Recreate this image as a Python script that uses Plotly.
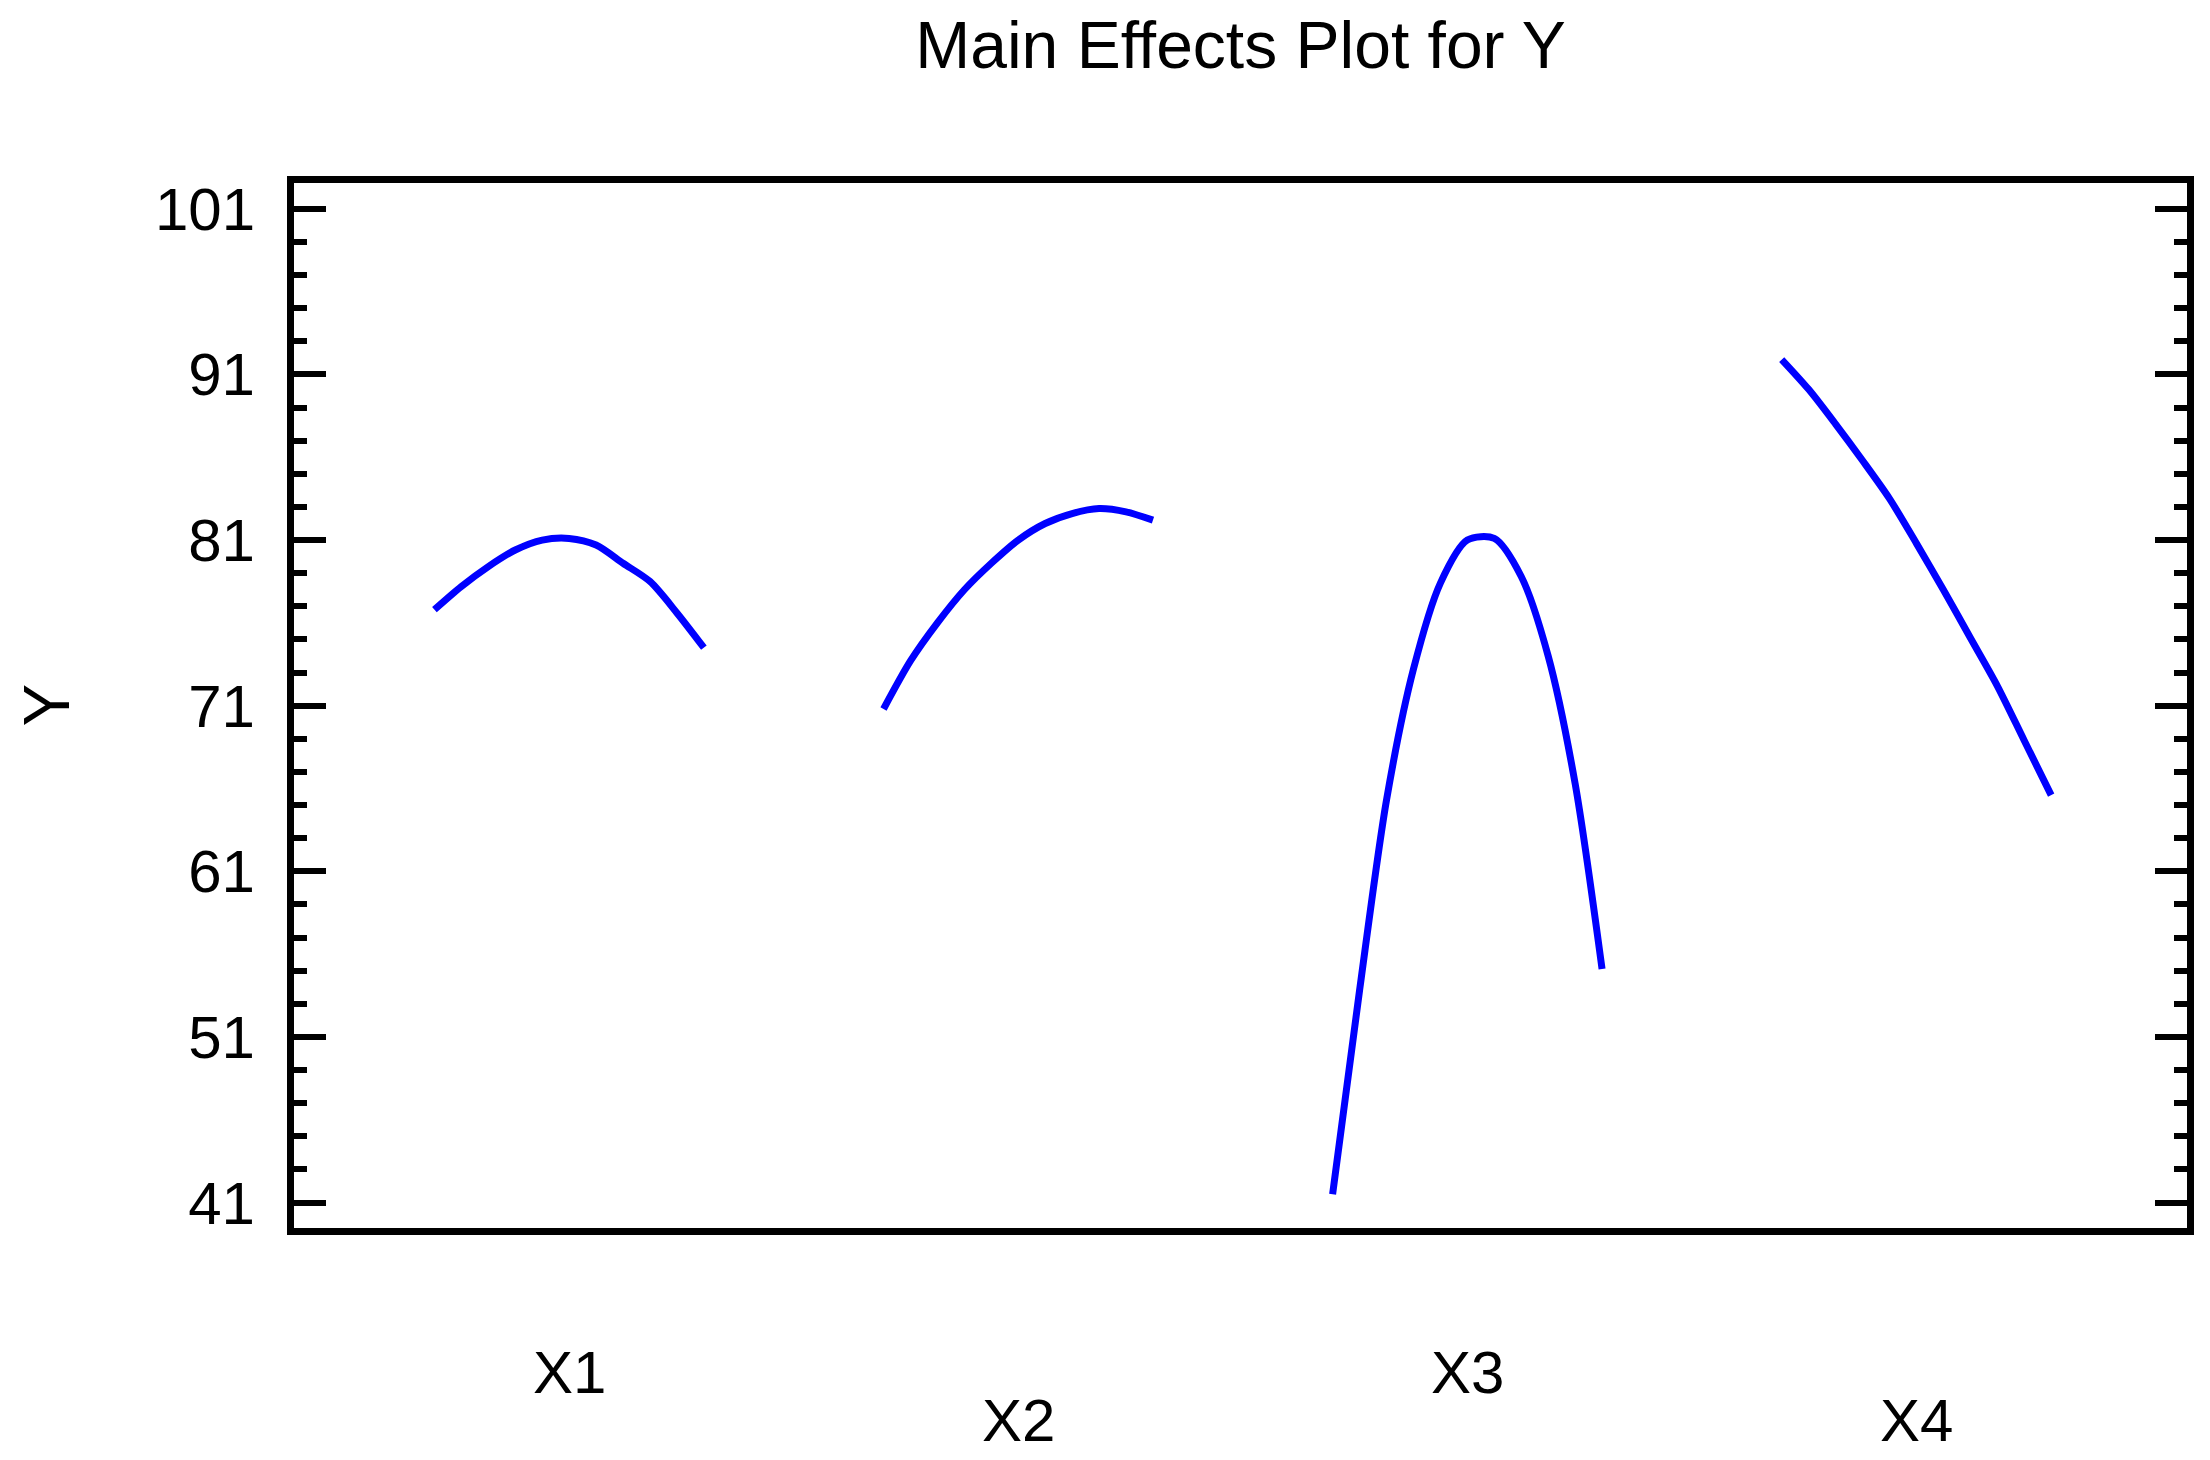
import plotly.graph_objects as go

# coded factor levels (low -> high) shared by every factor
levels = [-1.0, -0.8, -0.6, -0.4, -0.2, 0.0, 0.2, 0.4, 0.6, 0.8, 1.0]

factors = ["X1", "X2", "X3", "X4"]

# predicted response along each factor
y_x1 = [76.8, 78.2, 79.4, 80.4, 81.0, 81.1, 80.7, 79.6, 78.5, 76.6, 74.5]
y_x2 = [70.8, 73.7, 76.0, 78.0, 79.6, 81.0, 82.0, 82.6, 82.9, 82.7, 82.2]
y_x3 = [41.5, 53.8, 65.3, 73.2, 78.4, 81.0, 81.1, 78.8, 74.0, 66.3, 55.1]
y_x4 = [91.9, 90.1, 88.0, 85.8, 83.5, 80.8, 78.0, 75.1, 72.2, 68.9, 65.6]

y_ticks = [41, 51, 61, 71, 81, 91, 101]

FONT = "Liberation Sans, Arial, sans-serif"
BLUE = "#0000FF"

# page has an 8px body margin, so the figure is drawn 8px smaller
W, H = 2202, 1452

fig = go.Figure()

series = [y_x1, y_x2, y_x3, y_x4]
for slot, (name, ys) in enumerate(zip(factors, series)):
    # each factor gets its own slot on a shared x axis
    xs = [slot + (lv + 1) * 0.3 for lv in levels]
    fig.add_trace(go.Scatter(
        x=xs,
        y=ys,
        name=name,
        mode="lines",
        line=dict(color=BLUE, width=7, shape="spline", smoothing=0.8),
        hovertemplate=name + ": %{y:.1f}<extra></extra>",
    ))

# factor labels below the frame, staggered like the original
label_y = [-0.138, -0.184, -0.138, -0.184]
for slot, name in enumerate(factors):
    fig.add_annotation(
        x=slot + 0.3, y=label_y[slot],
        xref="x", yref="paper",
        text=name, showarrow=False,
        xanchor="center", yanchor="middle",
        font=dict(family=FONT, size=60, color="black"),
    )

fig.add_annotation(
    x=-0.131, y=0.5, xref="paper", yref="paper",
    text="Y", textangle=-90, showarrow=False,
    xanchor="center", yanchor="middle",
    font=dict(family=FONT, size=64, color="black"),
)

fig.update_layout(
    width=W,
    height=H,
    margin=dict(l=285.5, r=22.5, t=174.5, b=231.5),
    paper_bgcolor="white",
    plot_bgcolor="white",
    showlegend=False,
    title=dict(
        text="Main Effects Plot for Y",
        x=0.5, xref="paper", xanchor="center",
        y=1 - 37 / H, yref="container", yanchor="middle",
        font=dict(family=FONT, size=66, color="black"),
    ),
    xaxis=dict(
        range=[-0.3127, 3.9025],
        showticklabels=False,
        ticks="",
        showgrid=False,
        zeroline=False,
        showline=True,
        linecolor="black",
        linewidth=7,
        mirror=True,
    ),
    yaxis=dict(
        range=[39.46, 102.56],
        tickvals=y_ticks,
        ticks="inside",
        ticklen=32,
        tickwidth=6,
        tickcolor="black",
        ticklabelstandoff=20,
        tickfont=dict(family=FONT, size=60, color="black"),
        minor=dict(dtick=2, tick0=41, ticks="inside", ticklen=13, tickwidth=6, tickcolor="black", showgrid=False),
        showgrid=False,
        zeroline=False,
        showline=True,
        linecolor="black",
        linewidth=7,
        mirror="allticks",
    ),
)

fig.write_html("out.html")
